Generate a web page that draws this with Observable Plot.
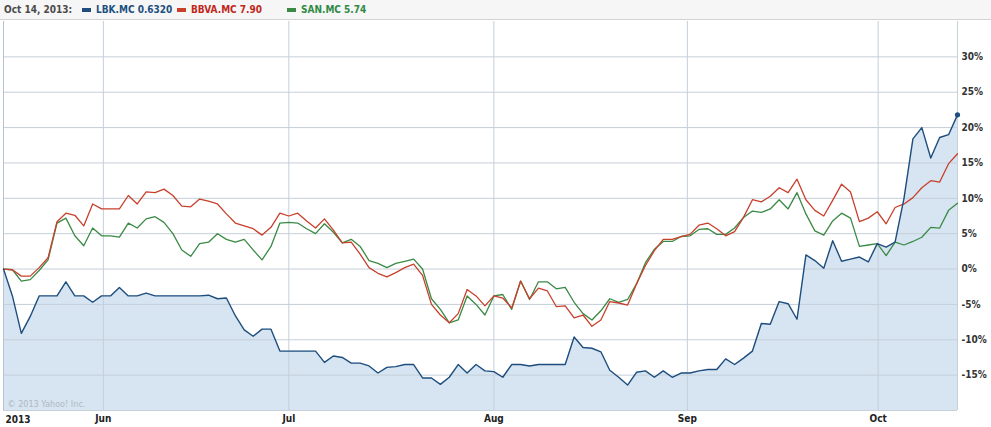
<!DOCTYPE html>
<html>
<head>
<meta charset="utf-8">
<script src="https://cdn.jsdelivr.net/npm/d3@7"></script>
<script src="https://cdn.jsdelivr.net/npm/@observablehq/plot@0.6"></script>
<style>
  body { margin: 0; background: #fff; }
  #wrap { width: 991px; height: 427px; position: relative; overflow: hidden; font-family: "DejaVu Sans Condensed", "Liberation Sans", sans-serif; }
  #legend { position: relative; height: 20px; width: 991px; background: #f6f6f6; box-sizing: border-box; border-bottom: 1px solid #d3d3d3; font-size: 10px; font-weight: bold; }
  #legend span.t { position: absolute; top: 4px; white-space: nowrap; }
  #legend span.sw { position: absolute; top: 8px; width: 9px; height: 4px; }
  svg { display: block; }
</style>
</head>
<body>
<div id="wrap">
  <div id="legend"></div>
  <div id="chart"></div>
</div>
<script>
// Data: % change since start, one point per trading day (index)
const lbk = [0,-3.8,-9.1,-6.7,-3.8,-3.8,-3.8,-1.8,-3.8,-3.8,-4.7,-3.8,-3.8,-2.6,-3.8,-3.8,-3.4,-3.8,-3.8,-3.8,
  -3.8,-3.8,-3.8,-3.7,-4.2,-4.1,-6.6,-8.6,-9.5,-8.5,-8.5,-11.6,-11.6,-11.6,-11.6,-11.6,-13.2,-12.3,-12.5,-13.3,
  -13.3,-13.7,-14.7,-13.9,-13.8,-13.5,-13.5,-15.4,-15.4,-16.3,-15.3,-13.5,-14.7,-13.5,-14.4,-14.5,-15.3,-13.5,-13.5,-13.7,
  -13.5,-13.5,-13.5,-13.5,-9.6,-11.1,-11.2,-11.7,-14.3,-15.3,-16.4,-14.6,-14.4,-15.3,-14.4,-15.3,-14.7,-14.7,-14.4,-14.2,
  -14.2,-12.7,-13.5,-12.6,-11.6,-7.7,-7.8,-4.6,-4.9,-7.1,2.0,1.2,0.1,4.0,1.1,1.4,1.7,1.0,3.6,3.1,
  3.8,10.0,18.4,20.0,15.7,18.6,19.0,21.8];
const bbva = [0,-0.1,-1.0,-1.0,0.2,1.6,6.7,7.9,7.6,6.1,9.2,8.5,8.5,8.5,10.4,9.2,10.9,10.8,11.3,10.4,
  8.9,8.8,9.9,9.6,9.2,7.8,6.5,6.1,5.7,4.8,5.9,7.9,7.5,7.9,6.8,5.8,7.1,5.5,3.7,3.8,
  2.1,0.2,-0.6,-1.1,-0.5,0.2,0.7,-0.9,-5.0,-6.5,-7.6,-6.3,-2.9,-3.8,-5.2,-3.8,-4.1,-5.5,-1.7,-4.2,
  -2.7,-3.1,-5.3,-5.2,-6.9,-6.5,-8.1,-7.2,-4.6,-4.8,-5.1,-2.1,0.5,2.6,4.2,4.2,4.6,4.9,6.2,6.5,
  5.7,4.7,5.3,7.3,9.8,9.5,10.3,11.5,10.8,12.7,9.8,8.3,7.5,9.7,12.0,10.9,6.7,7.2,8.1,6.4,
  8.7,9.2,10.1,11.5,12.5,12.3,14.9,16.3];
const san = [0,-0.1,-1.7,-1.5,-0.2,1.3,6.5,7.2,4.7,3.3,5.8,4.7,4.7,4.5,6.5,5.8,7.1,7.4,6.6,5.0,
  2.7,1.8,3.6,3.8,5.0,4.2,3.8,4.2,2.7,1.3,3.2,6.5,6.6,6.5,5.7,5.0,6.4,5.2,3.7,4.2,
  3.2,1.2,0.8,0.2,0.8,1.1,1.4,0,-4.2,-5.7,-7.6,-7.2,-3.8,-5.0,-6.5,-3.8,-3.6,-5.7,-1.7,-4.3,
  -1.8,-1.8,-2.8,-2.6,-4.7,-6.3,-7.2,-5.9,-4.2,-4.7,-4.3,-2.1,0.9,2.8,3.9,3.9,4.6,4.7,5.6,5.7,
  4.9,4.9,5.8,7.3,8.2,8.0,8.5,9.8,8.5,10.8,7.8,5.4,4.8,6.8,7.9,7.2,3.2,3.4,3.6,1.9,
  3.8,3.4,3.9,4.5,5.9,5.8,8.3,9.3];

const monthTickPos = [11.2, 32.0, 55.0, 76.7, 98.1];
const monthLabels = ["Jun", "Jul", "Aug", "Sep", "Oct"];
const yearLabel = "2013";
const yTicks = [-15, -10, -5, 0, 5, 10, 15, 20, 25, 30];

const legendDate = "Oct 14, 2013:";
const seriesNames = ["LBK.MC 0.6320", "BBVA.MC 7.90", "SAN.MC 5.74"];
const seriesColors = ["#1f4e7e", "#c8402c", "#3a8a45"];
const legendTextColors = ["#1d4f80", "#c0281b", "#2f8a45"];

// Legend (HTML above the SVG)
const leg = document.getElementById("legend");
const addSpan = (cls, left, text, color) => {
  const s = document.createElement("span");
  s.className = cls; s.style.left = left + "px";
  if (cls === "t") { s.textContent = text; s.style.color = color; }
  else s.style.background = color;
  leg.appendChild(s);
};
addSpan("t", 4, legendDate, "#4a4a4a");
const swX = [82, 177, 287];
seriesNames.forEach((n, k) => {
  addSpan("sw", swX[k], "", seriesColors[k]);
  addSpan("t", swX[k] + 14, n, legendTextColors[k]);
});

const rows = lbk.map((v, i) => ({i, lbk: v, bbva: bbva[i], san: san[i]}));
const last = rows.length - 1;
const grid = "#c5cfd9";

const chart = Plot.plot({
  width: 991,
  height: 407,
  marginTop: 1,
  marginBottom: 17,
  marginLeft: 3,
  marginRight: 34,
  x: {domain: [0, last], axis: null, label: null},
  y: {domain: [-20, 35], axis: null, label: null},
  style: {fontFamily: "'DejaVu Sans Condensed', 'Liberation Sans', sans-serif", background: "#fff", color: "#222"},
  marks: [
    Plot.areaY(rows, {x: "i", y1: () => -20, y2: "lbk", fill: "#d6e5f1"}),
    Plot.ruleY(yTicks, {stroke: grid, strokeWidth: 1}),
    Plot.ruleX(monthTickPos, {stroke: grid, strokeWidth: 1}),
    Plot.ruleX([0], {stroke: "#b9c3cd"}),
    Plot.ruleX([last], {stroke: "#c8d0d8"}),
    Plot.ruleY([-20], {stroke: "#c8d0d8"}),
    Plot.text(["\u00a9 2013 Yahoo! Inc."], {frameAnchor: "bottom-left", dx: 4, dy: -4, fill: "#aeb9c4", fontSize: 9}),
    Plot.lineY(rows, {x: "i", y: "san", stroke: seriesColors[2], strokeWidth: 1.3}),
    Plot.lineY(rows, {x: "i", y: "bbva", stroke: seriesColors[1], strokeWidth: 1.3}),
    Plot.lineY(rows, {x: "i", y: "lbk", stroke: seriesColors[0], strokeWidth: 1.4}),
    Plot.dot([rows[last]], {x: "i", y: "lbk", r: 2.6, fill: seriesColors[0]}),
    Plot.axisY({anchor: "right", label: null, ticks: yTicks, tickSize: 0, tickPadding: 4, tickFormat: d => d + "%", fontSize: 10, fontWeight: "bold", fill: "#333"}),
    Plot.axisX({label: null, ticks: monthTickPos, tickSize: 0, tickPadding: 4, tickFormat: d => monthLabels[monthTickPos.indexOf(d)], fontSize: 10, fontWeight: "bold", fill: "#222"}),
    Plot.text([yearLabel], {x: () => 0, y: () => -20, textAnchor: "start", dx: 2, dy: 9, fontSize: 10, fontWeight: "bold", fill: "#222"})
  ]
});
document.getElementById("chart").appendChild(chart);
</script>
</body>
</html>
